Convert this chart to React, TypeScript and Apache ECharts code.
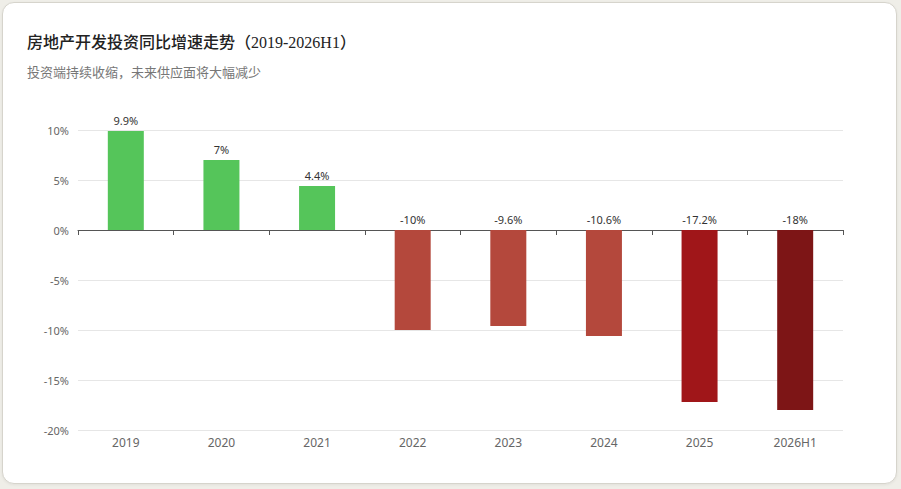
import React, { useRef, useEffect } from 'react';
import * as echarts from 'echarts';

const CATEGORIES = ['2019', '2020', '2021', '2022', '2023', '2024', '2025', '2026H1'];
const GROWTH = [9.9, 7, 4.4, -10, -9.6, -10.6, -17.2, -18];
const BAR_COLORS = ['#55c55a', '#55c55a', '#55c55a', '#b4483c', '#b4483c', '#b4483c', '#a01619', '#7d1516'];

const TITLE = '房地产开发投资同比增速走势（2019-2026H1）';
const SUBTITLE = '投资端持续收缩，未来供应面将大幅减少';

const SANS = "'Noto Sans', 'Noto Sans CJK SC', sans-serif";

const App: React.FC = () => {
  const chartRef = useRef<HTMLDivElement>(null);

  useEffect(() => {
    if (!chartRef.current) return;
    const chart = echarts.init(chartRef.current, null, { renderer: 'svg' });

    const option: echarts.EChartsOption = {
      animation: false,
      backgroundColor: 'transparent',
      title: [
        {
          text: TITLE,
          left: 24,
          top: 31,
          padding: 0,
          textStyle: {
            fontSize: 16,
            fontWeight: 500,
            color: '#222',
            fontFamily: "'Liberation Serif', 'Noto Sans CJK SC', serif",
          },
        },
        {
          text: SUBTITLE,
          left: 24,
          top: 62,
          padding: 0,
          textStyle: {
            fontSize: 13,
            fontWeight: 'normal',
            color: '#777',
            fontFamily: SANS,
          },
        },
      ],
      grid: { left: 75, right: 53, top: 127, bottom: 53 },
      xAxis: [
        {
          type: 'category',
          data: CATEGORIES,
          position: 'bottom',
          axisLine: { show: false, onZero: false },
          axisTick: { show: false },
          axisLabel: { color: '#666', fontSize: 12, margin: 6, fontFamily: SANS },
        },
        {
          type: 'category',
          data: CATEGORIES,
          position: 'bottom',
          axisLine: { show: true, onZero: true, lineStyle: { color: '#555' } },
          axisTick: { show: true, length: 5, lineStyle: { color: '#555' } },
          axisLabel: { show: false },
        },
      ],
      yAxis: {
        type: 'value',
        min: -20,
        max: 10,
        interval: 5,
        axisLine: { show: false },
        axisTick: { show: false },
        axisLabel: { formatter: '{value}%', color: '#666', fontSize: 11, margin: 9, fontFamily: SANS },
        splitLine: { lineStyle: { color: '#e6e6e6' } },
      },
      series: [
        {
          type: 'bar',
          xAxisIndex: 0,
          barWidth: 36,
          data: GROWTH.map((v, i) => ({ value: v, itemStyle: { color: BAR_COLORS[i] } })),
          label: {
            show: true,
            position: 'top',
            formatter: '{c}%',
            color: '#333',
            fontSize: 11,
            fontFamily: SANS,
          },
        },
      ],
    };

    chart.setOption(option);
    return () => chart.dispose();
  }, []);

  return (
    <div style={{ position: 'fixed', inset: 0, background: '#efeee8' }}>
      <div
        style={{
          position: 'absolute',
          left: 2,
          top: 2,
          width: 893,
          height: 480,
          background: '#ffffff',
          border: '1px solid #d6d4cc',
          borderRadius: 12,
          boxShadow: '0 1px 3px rgba(0,0,0,0.06)',
        }}
      >
        <div ref={chartRef} style={{ width: 893, height: 480 }} />
      </div>
    </div>
  );
};

export default App;
